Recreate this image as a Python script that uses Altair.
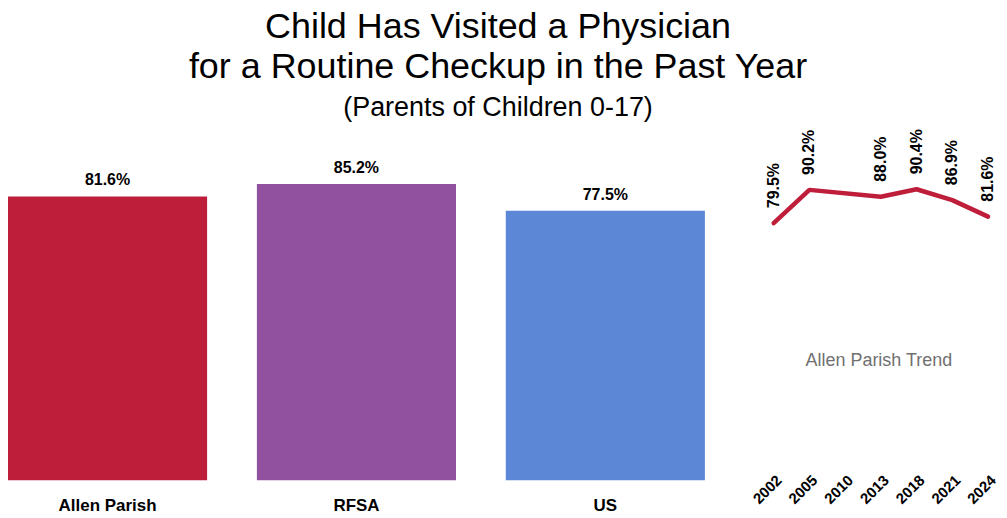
import altair as alt
import pandas as pd

# Bar chart data
regions = ["Allen Parish", "RFSA", "US"]
region_values = [81.6, 85.2, 77.5]
region_colors = ["#BE1E3A", "#92519E", "#5B87D6"]

# Trend data (no 2010 value)
all_years = ["2002", "2005", "2010", "2013", "2018", "2021", "2024"]
trend_years = ["2002", "2005", "2013", "2018", "2021", "2024"]
trend_values = [79.5, 90.2, 88.0, 90.4, 86.9, 81.6]

bar_df = pd.DataFrame({
    "region": regions,
    "value": region_values,
    "label": [f"{v:.1f}%" for v in region_values],
})
trend_df = pd.DataFrame({
    "year": trend_years,
    "value": trend_values,
    "label": [f"{v:.1f}%" for v in trend_values],
})

BOLD = "Liberation Sans, Arial, Helvetica"
REG = "Liberation Sans, Arial, Helvetica"
LBL = 16

bar_base = alt.Chart(bar_df).encode(
    x=alt.X("region:N", sort=regions,
            scale=alt.Scale(range=[0, 699], paddingInner=0.2, paddingOuter=0),
            axis=alt.Axis(title=None, labelAngle=0, ticks=False, domain=False, orient="bottom",
                          labelFont=BOLD, labelFontSize=LBL + 1, labelFontWeight="bold",
                          labelColor="#000", labelPadding=17)),
    y=alt.Y("value:Q", scale=alt.Scale(domain=[0, 100]), axis=None),
)
bars = bar_base.mark_bar().encode(
    color=alt.Color("region:N", scale=alt.Scale(domain=regions, range=region_colors), legend=None)
)
bar_text = bar_base.mark_text(dy=-11, baseline="alphabetic", font=BOLD, fontSize=LBL,
                              fontWeight="bold", color="#000").encode(text="label:N")
bar_layer = alt.layer(bars, bar_text)

t_base = alt.Chart(trend_df).encode(
    x=alt.X("year:O", scale=alt.Scale(domain=all_years, type="point", padding=0, range=[768, 983]),
            axis=alt.Axis(title=None, labelAngle=-45, ticks=False, domain=False, orient="bottom",
                          labelFont=BOLD, labelFontSize=15, labelFontWeight="bold",
                          labelColor="#000", labelPadding=-8)),
    y=alt.Y("value:Q", scale=alt.Scale(domain=[0, 100], range=[339, 27.1]), axis=None),
)
t_line = t_base.mark_line(color="#BE1E3A", strokeWidth=4.5, strokeCap="round", strokeJoin="round")
t_text = t_base.mark_text(angle=270, align="left", baseline="middle", dx=15,
                          font=BOLD, fontSize=LBL, fontWeight="bold", color="#000").encode(text="label:N")
t_layer = alt.layer(t_line, t_text)

t_title = alt.Chart(pd.DataFrame({"t": ["Allen Parish Trend"]})).mark_text(
    font=REG, fontSize=18, color="#707070", align="center", baseline="alphabetic"
).encode(text="t:N", x=alt.value(873.5), y=alt.value(234))

chart = alt.layer(bar_layer, t_layer, t_title).resolve_scale(
    x="independent", y="independent", color="independent"
).resolve_axis(x="independent").properties(
    width=983, height=349,
    title=alt.TitleParams(
        text=["Child Has Visited a Physician", "for a Routine Checkup in the Past Year"],
        subtitle="(Parents of Children 0-17)",
        font=REG, fontSize=36, fontWeight="normal", color="#000", lineHeight=40,
        subtitleFont=REG, subtitleFontSize=27, subtitleColor="#000",
        anchor="middle", offset=7, subtitlePadding=9,
    )
).configure(padding=0).configure_view(strokeWidth=0)

chart.save("out.html", embed_options={"renderer": "svg", "actions": False})
